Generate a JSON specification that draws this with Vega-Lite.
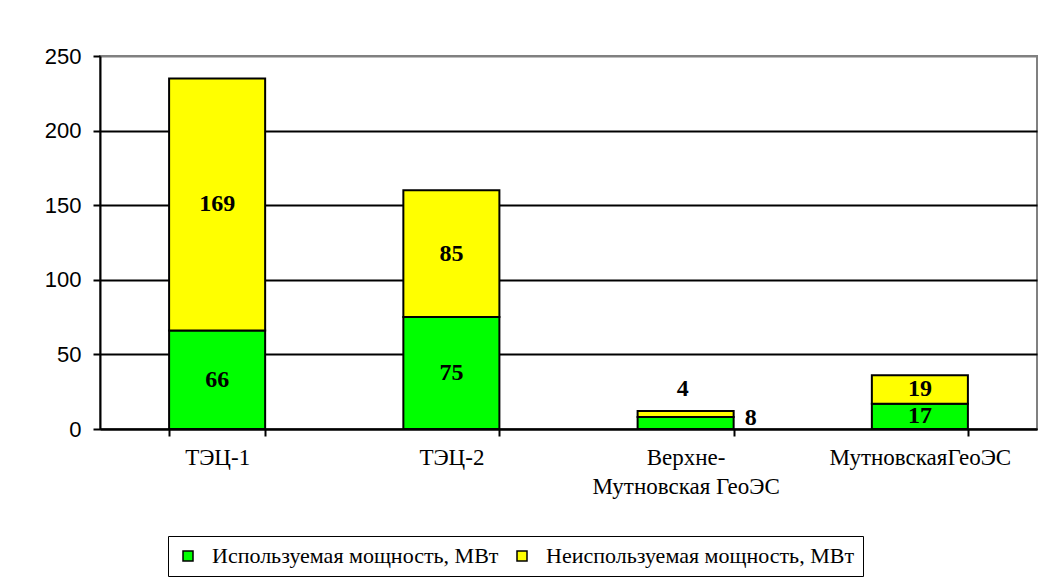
{
  "$schema": "https://vega.github.io/schema/vega-lite/v6.json",
  "width": 937,
  "height": 373,
  "autosize": "none",
  "padding": {"left": 100, "top": 56, "right": 6, "bottom": 152},
  "background": "white",
  "data": {
    "values": [
      {"station": "ТЭЦ-1", "type": "Используемая мощность, МВт", "value": 66},
      {"station": "ТЭЦ-1", "type": "Неиспользуемая мощность, МВт", "value": 169},
      {"station": "ТЭЦ-2", "type": "Используемая мощность, МВт", "value": 75},
      {"station": "ТЭЦ-2", "type": "Неиспользуемая мощность, МВт", "value": 85},
      {"station": "Верхне-Мутновская ГеоЭС", "type": "Используемая мощность, МВт", "value": 8},
      {"station": "Верхне-Мутновская ГеоЭС", "type": "Неиспользуемая мощность, МВт", "value": 4},
      {"station": "МутновскаяГеоЭС", "type": "Используемая мощность, МВт", "value": 17},
      {"station": "МутновскаяГеоЭС", "type": "Неиспользуемая мощность, МВт", "value": 19}
    ]
  },
  "encoding": {
    "x": {
      "field": "station",
      "type": "nominal",
      "sort": ["ТЭЦ-1", "ТЭЦ-2", "Верхне-Мутновская ГеоЭС", "МутновскаяГеоЭС"],
      "title": null,
      "scale": {"paddingInner": 0.59, "paddingOuter": 0.295},
      "axis": {
        "labelAngle": 0,
        "tickBand": "extent",
        "labelExpr": "datum.label === 'Верхне-Мутновская ГеоЭС' ? ['Верхне-', 'Мутновская ГеоЭС'] : datum.label",
        "labelFont": "Liberation Serif",
        "labelFontSize": 23,
        "labelColor": "black",
        "labelPadding": 10,
        "labelBaseline": "top",
        "labelLineHeight": 29,
        "labelLimit": 400,
        "tickSize": 7,
        "tickColor": "black",
        "tickWidth": 2,
        "domainColor": "black",
        "domainWidth": 2,
        "grid": false
      }
    }
  },
  "layer": [
    {
      "mark": {"type": "bar", "stroke": "black", "strokeWidth": 2},
      "encoding": {
        "y": {
          "field": "value",
          "type": "quantitative",
          "stack": "zero",
          "title": null,
          "scale": {"domain": [0, 250], "nice": false},
          "axis": {
            "values": [0, 50, 100, 150, 200, 250],
            "grid": true,
            "gridColor": {"condition": {"test": "datum.value === 250", "value": "#808080"}, "value": "black"},
            "gridWidth": 2,
            "tickSize": 7,
            "tickColor": "black",
            "tickWidth": 2,
            "domainColor": "black",
            "domainWidth": 2,
            "labelFont": "Liberation Sans",
            "labelFontSize": 22,
            "labelColor": "black",
            "labelPadding": 12
          }
        },
        "color": {
          "field": "type",
          "type": "nominal",
          "scale": {
            "domain": ["Используемая мощность, МВт", "Неиспользуемая мощность, МВт"],
            "range": ["#00FF00", "#FFFF00"]
          },
          "legend": {
            "title": null,
            "orient": "none",
            "legendX": 68,
            "legendY": 480,
            "direction": "horizontal",
            "symbolType": "square",
            "symbolSize": 100,
            "symbolStrokeColor": "black",
            "symbolStrokeWidth": 1.5,
            "labelFont": "Liberation Serif",
            "labelFontSize": 22,
            "labelColor": "black",
            "labelOffset": 13,
            "labelLimit": 500,
            "columnPadding": 12,
            "padding": 9,
            "strokeColor": "black",
            "fillColor": "white"
          }
        },
        "order": {"field": "type", "sort": "ascending"}
      }
    },
    {
      "transform": [
        {"stack": "value", "groupby": ["station"], "sort": [{"field": "type", "order": "ascending"}], "as": ["v0", "v1"]},
        {"fold": ["v0", "v1"], "as": ["edge", "pos"]},
        {"aggregate": [{"op": "mean", "field": "pos", "as": "mid"}], "groupby": ["station", "type", "value"]}
      ],
      "encoding": {
        "y": {"field": "mid", "type": "quantitative", "title": null},
        "text": {"field": "value", "type": "quantitative"}
      },
      "layer": [
        {
          "transform": [{"filter": "datum.station !== 'Верхне-Мутновская ГеоЭС'"}],
          "mark": {"type": "text", "font": "Liberation Serif", "fontWeight": "bold", "fontSize": 24, "color": "black", "baseline": "middle"}
        },
        {
          "transform": [{"filter": "datum.station === 'Верхне-Мутновская ГеоЭС' && datum.type === 'Неиспользуемая мощность, МВт'"}],
          "mark": {"type": "text", "font": "Liberation Serif", "fontWeight": "bold", "fontSize": 24, "color": "black", "baseline": "middle", "dy": -25, "dx": -3}
        },
        {
          "transform": [{"filter": "datum.station === 'Верхне-Мутновская ГеоЭС' && datum.type === 'Используемая мощность, МВт'"}],
          "mark": {"type": "text", "font": "Liberation Serif", "fontWeight": "bold", "fontSize": 24, "color": "black", "baseline": "middle", "dy": -5, "dx": 65}
        }
      ]
    }
  ],
  "config": {"view": {"stroke": "#808080", "strokeWidth": 2}}
}
